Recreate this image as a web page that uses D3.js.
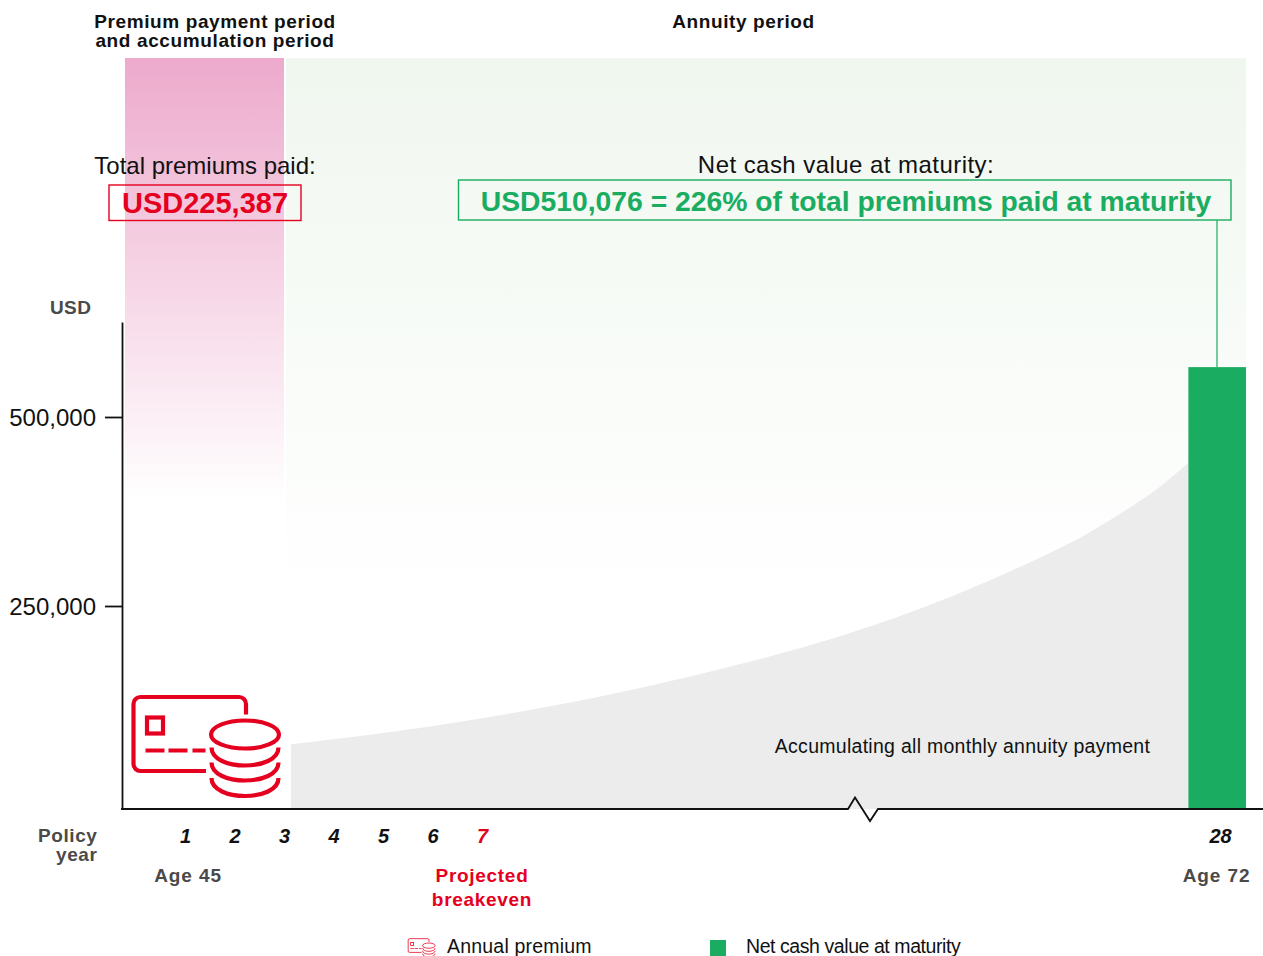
<!DOCTYPE html>
<html>
<head>
<meta charset="utf-8">
<style>
  html, body { margin: 0; padding: 0; background: #fff; overflow: hidden; }
  text { font-family: "Liberation Sans", Arial, sans-serif; }
</style>
</head>
<body>
<div id="chart"></div>
<script src="https://cdn.jsdelivr.net/npm/d3@7"></script>
<script>
var policyYears = [1, 2, 3, 4, 5, 6, 7, 28];
var usdTicks = [250000, 500000];
var breakevenYear = 7;
var premiumEndYear = 3;

// accumulated annuity curve
var curveYears = [3.14, 5.34, 8.08, 11.5, 14.91, 17.47, 20.32, 23.16, 24.59, 26.01, 27.09];
var curveValues = [79700, 96400, 119800, 149000, 184700, 216700, 261900, 320100, 355800, 398200, 439200];

// maturity bar: height as drawn against the axis, the label says 510,076
var barYears = [27.1, 28.74];
var barValue = 566000;

var RED = "#e60020",
    GREEN = "#1aac60",
    GREY = "#4a4a4a",
    AREA = "#ebeceb";

var width = 1263,
    height = 956;

var svg = d3.select("#chart").append("svg")
  .attr("width", width)
  .attr("height", height)
  .style("display", "block");

// both axes are broken in the original, so the scales have several segments
var x = d3.scaleLinear()
  .domain([1, 7, 28])
  .range([185, 482, 1220]);

var y = d3.scaleLinear()
  .domain([0, 250000, 500000, 625700])
  .range([809, 606, 417, 322]);

var defs = svg.append("defs");

function addGradient(id, from, y1, y2) {
  var grad = defs.append("linearGradient")
    .attr("id", id)
    .attr("gradientUnits", "userSpaceOnUse")
    .attr("x1", 0).attr("x2", 0)
    .attr("y1", y1).attr("y2", y2);
  grad.append("stop").attr("offset", 0).attr("stop-color", from);
  grad.append("stop").attr("offset", 1).attr("stop-color", "#fff");
}
addGradient("pinkFade", "#edaacc", 58, 500);
addGradient("greenFade", "#f0f7ef", 58, 600);

// period bands
svg.append("rect")
  .attr("x", 125)
  .attr("y", 58)
  .attr("width", x(premiumEndYear) - 125)
  .attr("height", 442)
  .attr("fill", "url(#pinkFade)");

svg.append("rect")
  .attr("x", x(premiumEndYear) + 2)
  .attr("y", 58)
  .attr("width", x(barYears[1]) - x(premiumEndYear) - 2)
  .attr("height", 542)
  .attr("fill", "url(#greenFade)");

// accumulating area
var area = d3.area()
  .x(function(d) { return x(d[0]); })
  .y0(y(0))
  .y1(function(d) { return y(d[1]); })
  .curve(d3.curveNatural);

svg.append("path")
  .datum(curveYears.map(function(d, i) { return [d, curveValues[i]]; }))
  .attr("d", area)
  .attr("fill", AREA);

// maturity bar
svg.append("rect")
  .attr("x", x(barYears[0]))
  .attr("y", y(barValue))
  .attr("width", x(barYears[1]) - x(barYears[0]))
  .attr("height", y(0) - y(barValue))
  .attr("fill", GREEN);

// leader from the box to the bar
svg.append("line")
  .attr("x1", 1217).attr("x2", 1217)
  .attr("y1", 220).attr("y2", y(barValue))
  .attr("stroke", GREEN)
  .attr("stroke-width", 1.2);

// y axis
var yAxis = d3.axisLeft(y)
  .tickValues(usdTicks)
  .tickSize(17)
  .tickSizeOuter(0)
  .tickPadding(9)
  .tickFormat(d3.format(","));

var yG = svg.append("g")
  .attr("transform", "translate(122,0)")
  .call(yAxis);
yG.selectAll("path, line").attr("stroke", "#111").attr("stroke-width", 1.8);
yG.selectAll("text")
  .attr("font-size", 24)
  .attr("dy", "0.36em")
  .attr("fill", "#111")
  .attr("font-family", "Liberation Sans");

// x axis with the zigzag break
var baseY = y(0);
var axisLine = d3.line();
svg.append("path")
  .attr("d", axisLine([
    [121, baseY], [848, baseY], [855, baseY - 11.5], [870, baseY + 12],
    [878, baseY], [width, baseY]
  ]))
  .attr("fill", "none")
  .attr("stroke", "#111")
  .attr("stroke-width", 1.8);

var xAxis = d3.axisBottom(x)
  .tickValues(policyYears)
  .tickSize(0)
  .tickPadding(20)
  .tickFormat(d3.format("d"));

var xG = svg.append("g")
  .attr("transform", "translate(0," + baseY + ")")
  .call(xAxis);
xG.select(".domain").remove();
xG.selectAll("text")
  .attr("font-size", 20)
  .attr("font-weight", 700)
  .attr("font-style", "italic")
  .attr("font-family", "Liberation Sans")
  .attr("fill", function(d) { return d == breakevenYear ? RED : "#111"; });

function label(txt, px, py, size, weight, fill, anchor, spacing) {
  return svg.append("text")
    .text(txt)
    .attr("x", px)
    .attr("y", py)
    .attr("font-size", size)
    .attr("font-weight", weight)
    .attr("fill", fill)
    .attr("text-anchor", anchor || "middle")
    .attr("letter-spacing", spacing || 0);
}

// headers
label("Premium payment period", 215, 28, 19, 700, "#111", "middle", 0.62);
label("and accumulation period", 215, 47, 19, 700, "#111", "middle", 0.62);
label("Annuity period", 743.5, 28, 19, 700, "#111", "middle", 0.6);

// callouts
label("Total premiums paid:", 205, 174, 24, 400, "#111");
svg.append("rect")
  .attr("x", 109).attr("y", 185)
  .attr("width", 192).attr("height", 35.5)
  .attr("fill", "none")
  .attr("stroke", RED)
  .attr("stroke-width", 1.4);
label("USD225,387", 205, 213, 29, 700, RED);

label("Net cash value at maturity:", 846, 173, 24, 400, "#111", "middle", 0.45);
svg.append("rect")
  .attr("x", 458.5).attr("y", 180)
  .attr("width", 772.5).attr("height", 40)
  .attr("fill", "none")
  .attr("stroke", GREEN)
  .attr("stroke-width", 1.4);
label("USD510,076 = 226% of total premiums paid at maturity", 846, 211, 28.3, 700, GREEN);

label("Accumulating all monthly annuity payment", 962.5, 753, 19.5, 400, "#111", "middle", 0.28);

// axis captions
label("USD", 91.5, 314, 19, 700, GREY, "end", 0.5);
label("Policy", 97.5, 842, 19, 700, GREY, "end", 0.6);
label("year", 97.5, 861, 19, 700, GREY, "end", 0.6);
label("Age 45", 188, 882, 19, 700, GREY, "middle", 0.9);
label("Age 72", 1216.5, 882, 19, 700, GREY, "middle", 0.9);
label("Projected", x(breakevenYear), 882, 19, 700, RED, "middle", 0.7);
label("breakeven", x(breakevenYear), 906, 19, 700, RED, "middle", 0.7);

// card and coins icon, drawn from its own top left corner
function drawIcon(g) {
  g.attr("fill", "none")
    .attr("stroke", RED)
    .attr("stroke-width", 4.2);
  g.append("path").attr("d", "M113.5,18.5V8a7,7 0 0 0 -7,-7H8a7,7 0 0 0 -7,7V68a7,7 0 0 0 7,7H73.5");
  g.append("rect").attr("x", 14.5).attr("y", 21.5).attr("width", 16).attr("height", 16);
  g.append("path").attr("d", "M13,54.5H32M36,54.5H55M60,54.5H73");
  g.append("ellipse").attr("cx", 112.5).attr("cy", 38.5).attr("rx", 34).attr("ry", 14);
  [51.5, 66.5, 82].forEach(function(top) {
    g.append("path").attr("d", "M79,"+top+"C79,"+(top+24)+" 146,"+(top+24)+" 146,"+top);
  });
}

drawIcon(svg.append("g").attr("transform", "translate(132.5,696)"));

// legend
drawIcon(svg.append("g").attr("transform", "translate(408,938.5) scale(0.185)"));
label("Annual premium", 447, 953, 19.5, 400, "#111", "start", 0.2);

svg.append("rect")
  .attr("x", 710).attr("y", 940)
  .attr("width", 16).attr("height", 16)
  .attr("fill", GREEN);
label("Net cash value at maturity", 746, 953, 19.5, 400, "#111", "start", -0.43);
</script>
</body>
</html>
